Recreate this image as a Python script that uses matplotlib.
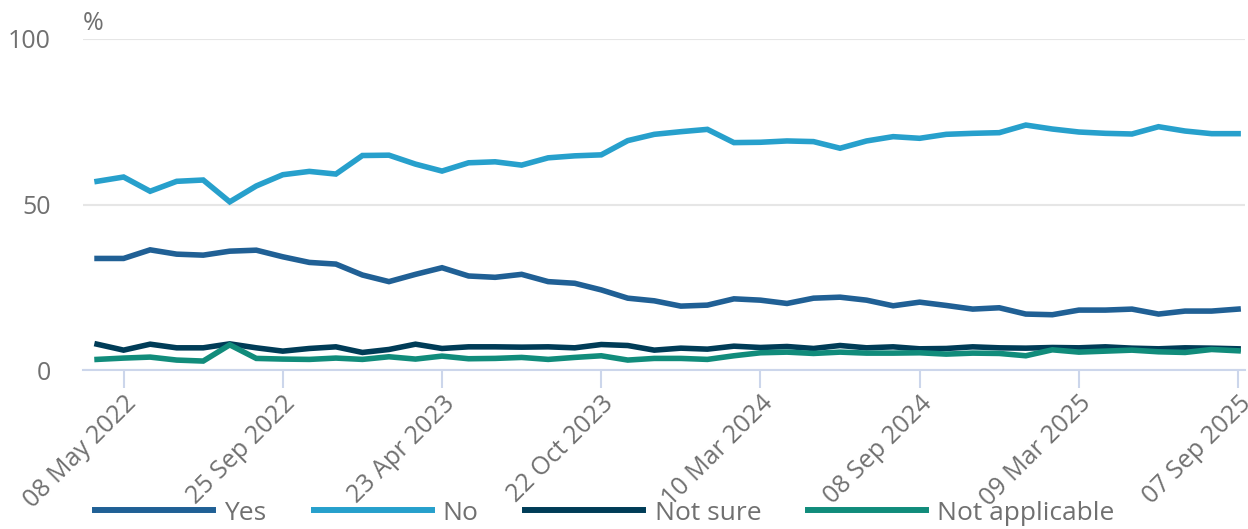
import matplotlib.pyplot as plt

plt.rcParams['font.family'] = ['Open Sans', 'DejaVu Sans']

# percentages per survey wave (44 waves, categorical x axis)
yes = [33.7, 33.7, 36.3, 35.0, 34.7, 35.9, 36.2, 34.2, 32.5, 32.0, 28.7,
       26.7, 28.9, 30.9, 28.4, 28.0, 28.9, 26.7, 26.2, 24.2, 21.7, 20.9,
       19.3, 19.6, 21.5, 21.1, 20.1, 21.7, 22.0, 21.1, 19.4, 20.5, 19.5,
       18.4, 18.8, 16.9, 16.7, 18.1, 18.1, 18.4, 16.9, 17.8, 17.8, 18.4]
no = [57.0, 58.3, 54.0, 57.0, 57.4, 50.8, 55.6, 59.0, 60.0, 59.2, 64.8,
      64.9, 62.2, 60.1, 62.6, 62.9, 61.9, 64.1, 64.7, 65.0, 69.3, 71.2,
      72.0, 72.7, 68.7, 68.8, 69.2, 69.0, 67.0, 69.2, 70.5, 70.0, 71.2,
      71.5, 71.7, 74.0, 72.8, 71.9, 71.5, 71.3, 73.5, 72.2, 71.4, 71.4]
not_sure = [7.8, 6.0, 7.8, 6.7, 6.7, 7.9, 6.7, 5.7, 6.5, 7.0, 5.3,
            6.2, 7.8, 6.5, 7.0, 7.0, 6.9, 7.0, 6.7, 7.7, 7.4, 6.0,
            6.6, 6.3, 7.2, 6.8, 7.1, 6.5, 7.4, 6.7, 7.0, 6.4, 6.5,
            7.0, 6.7, 6.6, 6.8, 6.7, 7.0, 6.6, 6.4, 6.7, 6.6, 6.4]
not_applicable = [3.2, 3.6, 3.9, 3.0, 2.7, 7.6, 3.5, 3.3, 3.2, 3.6, 3.2,
                  4.0, 3.3, 4.2, 3.4, 3.5, 3.8, 3.2, 3.8, 4.3, 3.0, 3.5,
                  3.5, 3.2, 4.3, 5.2, 5.4, 5.0, 5.4, 5.1, 5.1, 5.2, 4.8,
                  5.1, 5.0, 4.3, 6.1, 5.4, 5.7, 6.0, 5.5, 5.3, 6.2, 5.8]

tick_labels = ['08 May 2022', '25 Sep 2022', '23 Apr 2023', '22 Oct 2023',
               '10 Mar 2024', '08 Sep 2024', '09 Mar 2025', '07 Sep 2025']
tick_pos = list(range(1, len(yes), 6))

grey = '#707070'
axis_col = '#ccd6eb'
fs = 18

fig = plt.figure(figsize=(12.48, 5.29), dpi=100)
ax = fig.add_axes([83 / 1248, 159 / 529, 1162 / 1248, 331 / 529])

x = list(range(len(yes)))
series = [(yes, 'Yes', '#206095'), (no, 'No', '#27a0cc'),
          (not_sure, 'Not sure', '#003c57'),
          (not_applicable, 'Not applicable', '#118c7b')]
for vals, name, col in series:
    ax.plot(x, vals, color=col, lw=4.0, label=name, solid_joinstyle='miter',
            clip_on=False, zorder=3)

ax.set_xlim(-0.53, 43.26)
ax.set_ylim(0, 100)
ax.set_yticks([0, 50, 100])
ax.grid(axis='y', color='#e6e6e6', lw=1.5)
ax.set_axisbelow(True)
for s in ['top', 'right', 'left']:
    ax.spines[s].set_visible(False)
ax.spines['bottom'].set_color(axis_col)
ax.spines['bottom'].set_linewidth(1.5)

ax.set_xticks(tick_pos)
ax.set_xticklabels(tick_labels, rotation=45, ha='right', rotation_mode='anchor')
ax.tick_params(axis='x', length=13, width=1.5, color=axis_col, labelsize=fs,
               labelcolor=grey, pad=2)
ax.tick_params(axis='y', length=0, labelsize=fs, labelcolor=grey, pad=23)

fig.text(83 / 1248, 1 - 24 / 529, '%', fontsize=fs, color=grey, va='center')

leg = fig.legend(loc='center', bbox_to_anchor=(605 / 1248, 1 - 513 / 529),
                 ncol=4, frameon=False, fontsize=fs + 1, handlelength=4.47,
                 handletextpad=0.42, columnspacing=1.78)
for t in leg.get_texts():
    t.set_color(grey)
for h in leg.get_lines():
    h.set_linewidth(4.3)

fig.savefig('out.png', dpi=100)
